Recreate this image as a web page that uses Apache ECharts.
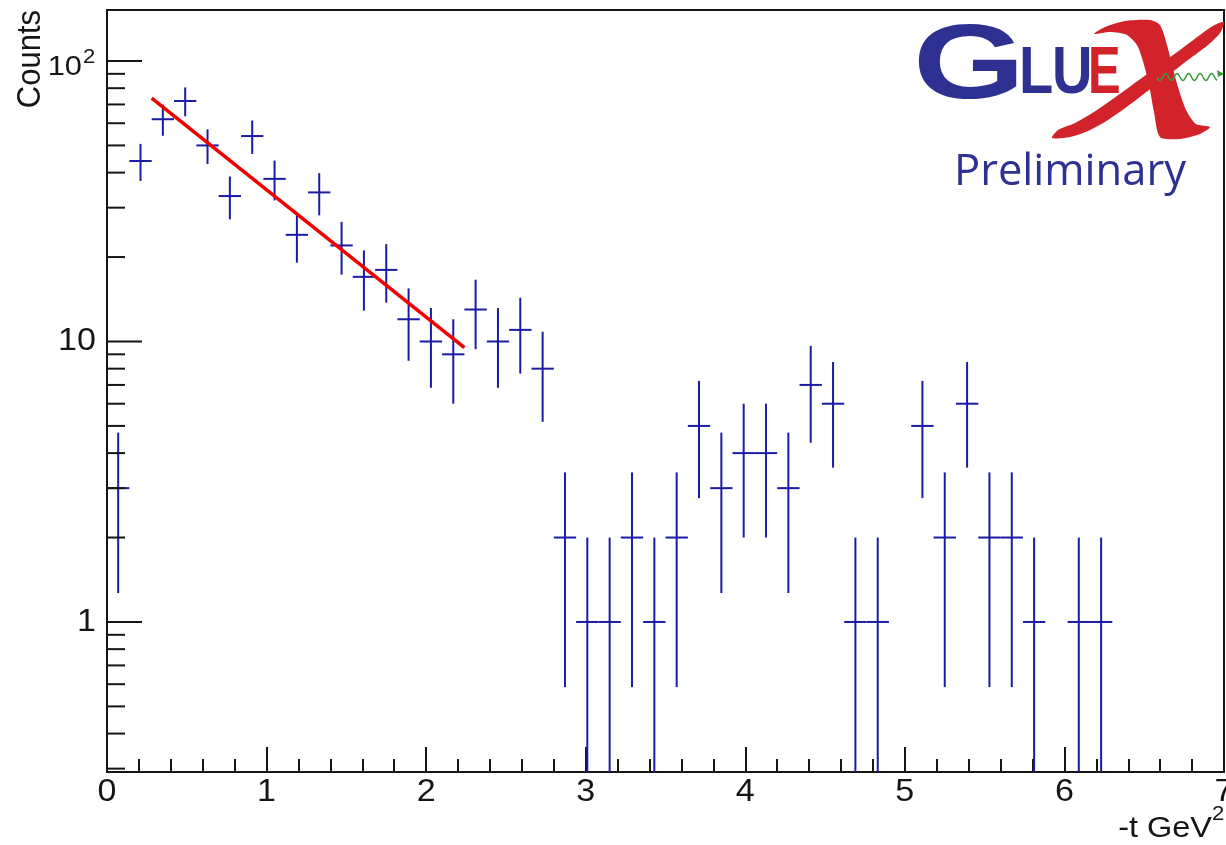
<!DOCTYPE html>
<html>
<head>
<meta charset="utf-8">
<script src="https://cdn.jsdelivr.net/npm/echarts@6/dist/echarts.min.js"></script>
<style>
  html, body { margin: 0; padding: 0; background: #ffffff; }
  #chart { width: 1226px; height: 845px; }
</style>
</head>
<body>
<div id="chart"></div>
<script>
// -t distribution: 50 bins of width 0.14 GeV^2 between 0 and 7
const binCenters = [
  0.07, 0.21, 0.35, 0.49, 0.63, 0.77, 0.91, 1.05, 1.19, 1.33,
  1.47, 1.61, 1.75, 1.89, 2.03, 2.17, 2.31, 2.45, 2.59, 2.73,
  2.87, 3.01, 3.15, 3.29, 3.43, 3.57, 3.71, 3.85, 3.99, 4.13,
  4.27, 4.41, 4.55, 4.69, 4.83, 4.97, 5.11, 5.25, 5.39, 5.53,
  5.67, 5.81, 5.95, 6.09, 6.23, 6.37, 6.51, 6.65, 6.79, 6.93
];
const binHalfWidth = 0.07;
const counts = [
  3, 44, 62, 72, 50, 33, 54, 38, 24, 34,
  22, 17, 18, 12, 10, 9, 13, 10, 11, 8,
  2, 1, 1, 2, 1, 2, 5, 3, 4, 4,
  3, 7, 6, 1, 1, 0, 5, 2, 6, 2,
  2, 1, 0, 1, 1, 0, 0, 0, 0, 0
];

// exponential fit over 0.28 < -t < 2.24 (straight on the log axis)
const fitT = [0.28, 2.24];
const fitCounts = [73.8, 9.5];

// axes
const xRange = [0, 7];
const xTickValues = [0, 1, 2, 3, 4, 5, 6, 7];
const xTickLabels = ['0', '1', '2', '3', '4', '5', '6', '7'];
const yRange = [0.2918, 152];
const yMajorTicks = [1, 10, 100];
const yTickLabels = ['1', '10', '10^2'];
const yMinorTicks = [0.3, 0.4, 0.5, 0.6, 0.7, 0.8, 0.9,
  2, 3, 4, 5, 6, 7, 8, 9,
  20, 30, 40, 50, 60, 70, 80, 90];
const xTitle = '-t GeV';
const xTitleExp = '2';
const yTitle = 'Counts';

const FONT = '"Liberation Sans", Arial, Helvetica, sans-serif';
const INK = '#151515';
const MARKER = '#1b1ba3';
const FIT = '#f00000';
const LOGO_BLUE = '#2e3192';
const LOGO_RED = '#d2232a';
const LOGO_GREEN = '#3b9b3b';
const STRETCH = 1.1;

const chart = echarts.init(document.getElementById('chart'), null, { renderer: 'canvas' });

function histogramItem(params, api) {
  const t = api.value(0);
  const n = api.value(1);
  const err = Math.sqrt(n); // Poisson uncertainty of the bin count
  const low = Math.max(n - err, yRange[0]);
  const c = api.coord([t, n]);
  const l = api.coord([t - binHalfWidth, n]);
  const r = api.coord([t + binHalfWidth, n]);
  const top = api.coord([t, n + err]);
  const bot = api.coord([t, low]);
  const style = { stroke: MARKER, lineWidth: 2 };
  return {
    type: 'group',
    children: [
      { type: 'line', shape: { x1: l[0], y1: c[1], x2: r[0], y2: c[1] }, style },
      { type: 'line', shape: { x1: c[0], y1: top[1], x2: c[0], y2: bot[1] }, style }
    ]
  };
}

function yTickItem(params, api) {
  const p = api.coord([xRange[0], api.value(1)]);
  const len = api.value(2) ? 35 : 18;
  return {
    type: 'line',
    shape: { x1: p[0], y1: p[1], x2: p[0] + len, y2: p[1] },
    style: { stroke: INK, lineWidth: 2 }
  };
}

function yLabelItem(params, api) {
  const p = api.coord([xRange[0], api.value(1)]);
  const parts = yTickLabels[params.dataIndex].split('^');
  if (parts.length === 1) {
    return {
      type: 'text', x: p[0] - 11, y: p[1], scaleX: STRETCH,
      style: { text: parts[0], fontSize: 31, fontFamily: FONT, fill: INK, align: 'right', verticalAlign: 'middle' }
    };
  }
  return {
    type: 'group',
    children: [
      { type: 'text', x: p[0] - 25, y: p[1] + 6, scaleX: STRETCH,
        style: { text: parts[0], fontSize: 28, fontFamily: FONT, fill: INK, align: 'right', verticalAlign: 'middle' } },
      { type: 'text', x: p[0] - 24, y: p[1] - 4, scaleX: STRETCH,
        style: { text: parts[1], fontSize: 20, fontFamily: FONT, fill: INK, align: 'left', verticalAlign: 'middle' } }
    ]
  };
}

function xLabelItem(params, api) {
  const p = api.coord([api.value(0), yRange[0]]);
  return {
    type: 'text', x: p[0], y: p[1] + 20, scaleX: STRETCH,
    style: { text: xTickLabels[params.dataIndex], fontSize: 31, fontFamily: FONT, fill: INK, align: 'center', verticalAlign: 'middle' }
  };
}

// green photon line of the logo
const wavePoints = [];
for (let i = 0; i <= 60; i++) {
  const x = 1157 + i;
  wavePoints.push([x, 77 + 3.5 * Math.sin((i / 11.5) * 2 * Math.PI)]);
}

const option = {
  animation: false,
  backgroundColor: '#ffffff',
  grid: {
    left: 107, top: 10, right: 2, bottom: 73,
    show: true, borderColor: INK, borderWidth: 2, backgroundColor: 'transparent'
  },
  xAxis: {
    type: 'value', min: xRange[0], max: xRange[1], interval: 1,
    axisLine: { show: false },
    axisTick: { show: true, inside: true, length: 25, lineStyle: { color: INK, width: 2 } },
    minorTick: { show: true, splitNumber: 5, length: 13, lineStyle: { color: INK, width: 2 } },
    axisLabel: { show: false },
    splitLine: { show: false },
    minorSplitLine: { show: false }
  },
  yAxis: {
    type: 'log', logBase: 10, min: yRange[0], max: yRange[1],
    axisLine: { show: false },
    axisTick: { show: false },
    minorTick: { show: false },
    axisLabel: { show: false },
    splitLine: { show: false }
  },
  series: [
    {
      name: 'yTicks', type: 'custom', coordinateSystem: 'cartesian2d', clip: false, silent: true,
      data: yMajorTicks.map(v => [xRange[0], v, 1]).concat(yMinorTicks.map(v => [xRange[0], v, 0])),
      encode: { x: 0, y: 1 },
      renderItem: yTickItem, z: 4
    },
    {
      name: 'yLabels', type: 'custom', coordinateSystem: 'cartesian2d', clip: false, silent: true,
      data: yMajorTicks.map(v => [xRange[0], v]),
      encode: { x: 0, y: 1 },
      renderItem: yLabelItem, z: 4
    },
    {
      name: 'xLabels', type: 'custom', coordinateSystem: 'cartesian2d', clip: false, silent: true,
      data: xTickValues.map(v => [v, yRange[0]]),
      encode: { x: 0, y: 1 },
      renderItem: xLabelItem, z: 4
    },
    {
      name: 'Counts', type: 'custom', coordinateSystem: 'cartesian2d', clip: false, silent: true,
      data: binCenters.map((t, i) => [t, counts[i]]).filter(d => d[1] > 0),
      encode: { x: 0, y: 1 },
      renderItem: histogramItem, z: 2
    },
    {
      name: 'fit', type: 'line', silent: true,
      data: fitT.map((t, i) => [t, fitCounts[i]]),
      symbol: 'none',
      lineStyle: { color: FIT, width: 3.5 },
      z: 3
    }
  ],
  graphic: {
    elements: [
      // axis titles
      { type: 'text', x: 31, y: 10, rotation: Math.PI / 2, scaleY: STRETCH, silent: true,
        style: { text: yTitle, fontSize: 31, fontFamily: FONT, fill: INK, align: 'right', verticalAlign: 'middle' } },
      { type: 'text', x: 1212, y: 829, scaleX: 1.12, silent: true,
        style: { text: xTitle, fontSize: 29, fontFamily: FONT, fill: INK, align: 'right', verticalAlign: 'middle' } },
      { type: 'text', x: 1212, y: 814, scaleX: 1.1, silent: true,
        style: { text: xTitleExp, fontSize: 20, fontFamily: FONT, fill: INK, align: 'left', verticalAlign: 'middle' } },
      // logo
      { type: 'text', x: 913, y: 69, scaleX: 1.36, silent: true,
        style: { text: 'G', fontSize: 106, fontWeight: 'bold', fontFamily: FONT, fill: LOGO_BLUE, align: 'left', verticalAlign: 'middle' } },
      { type: 'text', x: 1019, y: 75, scaleX: 0.85, silent: true,
        style: { text: 'L', fontSize: 66, fontWeight: 'bold', fontFamily: FONT, fill: LOGO_BLUE, align: 'left', verticalAlign: 'middle' } },
      { type: 'text', x: 1052, y: 75, scaleX: 0.85, silent: true,
        style: { text: 'U', fontSize: 66, fontWeight: 'bold', fontFamily: FONT, fill: LOGO_BLUE, align: 'left', verticalAlign: 'middle' } },
      { type: 'text', x: 1088, y: 75, scaleX: 0.74, silent: true,
        style: { text: 'E', fontSize: 66, fontWeight: 'bold', fontFamily: FONT, fill: LOGO_RED, align: 'left', verticalAlign: 'middle' } },
      { type: 'polygon', silent: true,
        shape: { smooth: 0.25, points: [
          [1094, 34], [1105, 27], [1125, 21], [1150, 20], [1160, 25], [1167, 45], [1176, 80],
          [1186, 110], [1196, 124], [1210, 127], [1200, 134], [1180, 139], [1160, 137],
          [1154, 112], [1148, 80], [1138, 47], [1127, 35], [1110, 32]
        ] },
        style: { fill: LOGO_RED } },
      { type: 'polygon', silent: true,
        shape: { smooth: 0.25, points: [
          [1224, 22], [1220, 33], [1208, 45], [1188, 60], [1162, 80], [1132, 103], [1108, 120],
          [1088, 131], [1070, 137], [1052, 138], [1058, 130], [1075, 123], [1097, 110],
          [1124, 91], [1154, 69], [1180, 50], [1200, 35], [1213, 26]
        ] },
        style: { fill: LOGO_RED } },
      { type: 'polyline', silent: true, shape: { points: wavePoints },
        style: { stroke: LOGO_GREEN, lineWidth: 1.5, fill: null } },
      { type: 'polygon', silent: true, shape: { points: [[1224, 74], [1217, 70], [1218, 77]] },
        style: { fill: LOGO_GREEN } },
      { type: 'text', x: 954, y: 173, silent: true,
        style: { text: 'Preliminary', fontSize: 43.5, fontFamily: '"Open Sans", "Noto Sans", sans-serif', fill: LOGO_BLUE, align: 'left', verticalAlign: 'middle' } }
    ]
  }
};

chart.setOption(option);
</script>
</body>
</html>
